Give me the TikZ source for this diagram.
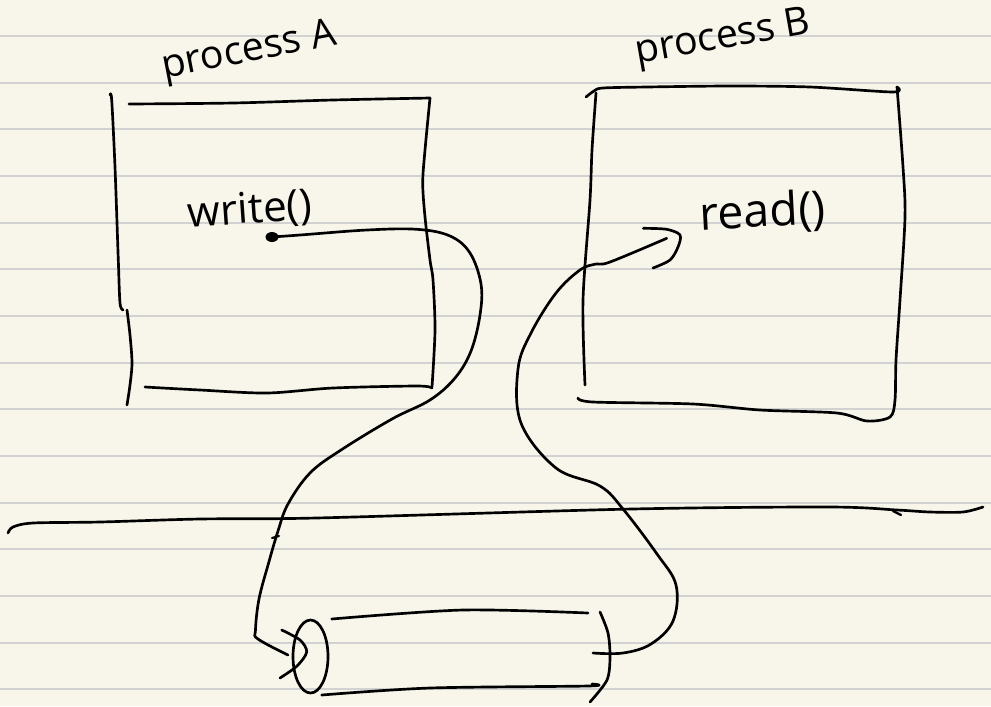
\documentclass[tikz,border=0pt]{standalone}
\usepackage{fontspec}
\setmainfont{Open Sans}
\definecolor{paper}{HTML}{F8F6EA}
\definecolor{ruleg}{HTML}{D2D2D2}
\begin{document}
\begin{tikzpicture}[x=0.025cm,y=-0.025cm,
  pen/.style={line width=1.9pt, line cap=round, line join=round, draw=black},
  ruleline/.style={line width=1.4pt, draw=ruleg},
  lbl/.style={inner sep=0pt, text=black}]
\fill[paper] (0,0) rectangle (991,706);
\useasboundingbox (0,0) rectangle (991,706);
\foreach \k in {0,...,14} \draw[ruleline] (0,{36+46.67*\k}) -- (991,{36+46.67*\k});

% labels
\node[lbl, rotate=11, font=\fontsize{28}{30}\selectfont] (pA) at (249,52) {process A};
\node[lbl, rotate=10, font=\fontsize{28}{30}\selectfont] (pB) at (723,39) {process B};
\node[lbl, rotate=4, font=\fontsize{30}{32}\selectfont] (wr) at (250,211) {write()};
\node[lbl, rotate=3, font=\fontsize{33}{35}\selectfont] (rd) at (763,213) {read()};

% process A box
\draw[pen] plot[smooth] coordinates {(110,95) (111.7,100) (115,167) (118.3,260) (120,303) (123,310)};
\draw[pen] plot[smooth] coordinates {(127,310) (130,335) (132,363) (130,385) (127,405)};
\draw[pen] plot[smooth] coordinates {(129,104) (233,103) (333,100) (430,98)};
\draw[pen] plot[smooth] coordinates {(430,98) (425,150) (422.7,183) (425,217) (430,260) (433,280) (435,330) (432,387)};
\draw[pen] plot[smooth] coordinates {(145,387) (200,390) (267,393) (333,388) (417,386) (432,388)};

% process B box
\draw[pen] plot[smooth] coordinates {(586,97) (594,91) (603,88) (647,87) (730,86) (810,87) (893,92) (897,87)};
\draw[pen] plot[smooth] coordinates {(596,93) (592,150) (590,200) (583,300) (585,385)};
\draw[pen] plot[smooth] coordinates {(897,87) (903,167) (905,217) (900,300) (896,360) (895,400) (890,417) (867,421) (837,413) (760,410) (693,404) (593,402) (578,398)};

% kernel boundary
\draw[pen] plot[smooth] coordinates {(8,533) (13,527) (33,523) (100,522) (200,519) (316,518) (632,509) (830,507) (897,510) (930,512) (963,512) (983,507)};
\draw[pen, line width=1.6pt] (893,511) -- (901,515);

% pipe (cylinder)
\draw[pen] (310.5,656.5) ellipse [x radius=17.5, y radius=36.5];
\draw[pen] plot[smooth] coordinates {(331.7,619) (463,610) (588,613)};
\draw[pen] plot[smooth] coordinates {(321.7,695) (430,688) (588,686) (592,684)};
\draw[pen] plot[smooth] coordinates {(600,612) (608,633) (610,657) (607,680) (590,702)};
\coordinate (pin) at (288,655);
\coordinate (pout) at (593,653);

% write dot and connector into the pipe
\coordinate (wdot) at (272,237);
\fill (wdot) ellipse [x radius=6.5, y radius=5];
\draw[pen] plot[smooth, tension=0.6] coordinates {(wdot) (300,235) (367,230) (417,229.3) (450,236) (470,253) (481,284) (480,315) (471,351) (455,378) (430,400) (392,419) (341,450) (310,473) (288,504) (278,531) (268.6,563) (259,599) (255.5,630) (258,639) (pin)};
\draw[pen] plot[smooth] coordinates {(281.7,630) (300,640) (306.7,652) (297,666) (280,678)};
\draw[pen, line width=1.5pt] (272,538) -- (279,536);

% connector from pipe to read()
\coordinate (rtip) at (666.7,238.3);
\draw[pen] plot[smooth, tension=0.6] coordinates {(pout) (623,653) (651,644) (673,621) (676,585) (657,554) (623,509) (600,486) (556,468) (521,423) (518,369) (531,333) (556,293) (580,270) (596,264) (610,262) (rtip)};
\draw[pen] plot[smooth] coordinates {(643.3,228.3) (666.7,229.3) (680,235) (678,247) (670,260) (653,268)};
\end{tikzpicture}
\end{document}
